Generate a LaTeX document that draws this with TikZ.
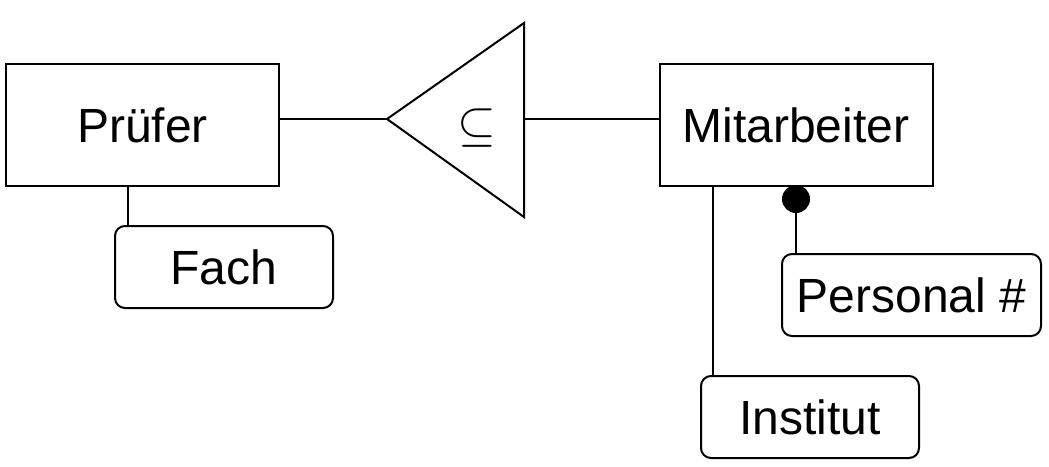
\documentclass[tikz,border=0pt]{standalone}
\usepackage{fontspec}
\setmainfont{Liberation Sans}
\begin{document}
\begin{tikzpicture}[x=0.5pt,y=-0.5pt,line width=1pt,
  lbl/.style={font=\fontsize{24}{28}\selectfont,text height=17.5pt,text depth=0pt},
  entity/.style={draw,rectangle,inner sep=0pt,minimum width=136.5pt,minimum height=61pt,lbl},
  attr/.style={draw,rectangle,rounded corners=5pt,inner sep=0pt,minimum width=109pt,minimum height=41pt,lbl},
  conn/.style={line width=1pt}]
\useasboundingbox (0,0) rectangle (1049,466);
\node[entity] (pruefer) at (142.5,124.5) {Prüfer};
\node[entity] (mitarb) at (796,124.5) {Mitarbeiter};
\node[attr] (fach) at (224,267) {Fach};
\node[attr] (institut) at (810,417) {Institut};
\node[attr,minimum width=129.5pt] (personal) at (911.5,295) {Personal \#};
% triangle
\coordinate (tip) at (387,119);
\coordinate (ttop) at (524,23);
\coordinate (tbot) at (524,217);
\coordinate (tright) at (524,119);
\draw[line join=miter] (tip) -- (ttop) -- (tbot) -- cycle;
\node[inner sep=0pt,font=\fontsize{24}{28}\selectfont] (sub) at (477,128) {$\subseteq$};
% connectors
\draw[conn] (pruefer.east |- tip) -- (tip);
\draw[conn] (tright) -- (mitarb.west |- tright);
\draw[conn] ([xshift=7pt]fach.north west) -- ([xshift=7pt]fach.north west |- pruefer.south);
\draw[conn] ([xshift=6.5pt]institut.north west) -- ([xshift=6.5pt]institut.north west |- mitarb.south);
\node[circle,fill=black,inner sep=0pt,minimum size=14pt] (dot) at (796,199) {};
\draw[conn] (dot.center) -- (dot.center |- personal.north);
\end{tikzpicture}
\end{document}
